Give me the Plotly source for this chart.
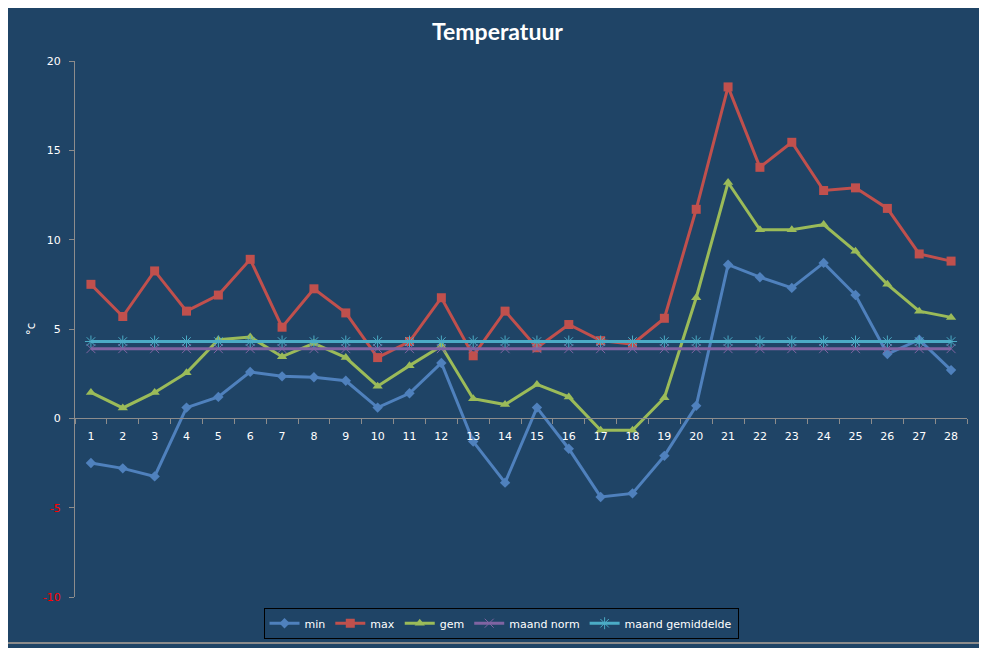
import plotly.graph_objs as go

# dagen van de maand
dagen = [str(d) for d in range(1, 29)]

t_min = [-2.5, -2.8, -3.25, 0.6, 1.2, 2.6, 2.35, 2.3, 2.1, 0.6, 1.4, 3.1, -1.3, -3.6,
         0.6, -1.7, -4.4, -4.2, -2.1, 0.7, 8.6, 7.9, 7.3, 8.7, 6.9, 3.6, 4.4, 2.7]
t_max = [7.5, 5.7, 8.25, 6.0, 6.9, 8.9, 5.1, 7.25, 5.9, 3.4, 4.3, 6.75, 3.5, 6.0,
         3.95, 5.25, 4.35, 4.15, 5.6, 11.7, 18.55, 14.05, 15.45, 12.75, 12.9, 11.75, 9.2, 8.8]
t_gem = [1.45, 0.58, 1.45, 2.55, 4.4, 4.55, 3.45, 4.2, 3.4, 1.8, 2.95, 4.05, 1.1, 0.77,
         1.9, 1.2, -0.67, -0.67, 1.15, 6.75, 13.2, 10.55, 10.55, 10.85, 9.35, 7.5, 6.0, 5.65]
maand_norm = [3.9] * 28
maand_gemiddelde = [4.3] * 28

# y-as labels
y_ticks = [-10, -5, 0, 5, 10, 15, 20]
y_labels = ['<span style="color:#FF0000">-10</span>', '<span style="color:#FF0000">-5</span>',
            '0', '5', '10', '15', '20']

bg = '#1F4466'
fnt = 'DejaVu Sans'

fig = go.Figure()

fig.add_trace(go.Scatter(x=dagen, y=t_min, name='min', mode='lines+markers',
                         line=dict(color='#4F81BD', width=3),
                         marker=dict(symbol='diamond', size=8, color='#4F81BD')))
fig.add_trace(go.Scatter(x=dagen, y=t_max, name='max', mode='lines+markers',
                         line=dict(color='#C0504D', width=3),
                         marker=dict(symbol='square', size=9, color='#C0504D')))
fig.add_trace(go.Scatter(x=dagen, y=t_gem, name='gem', mode='lines+markers',
                         line=dict(color='#9BBB59', width=3),
                         marker=dict(symbol='triangle-up', size=9, color='#9BBB59')))
fig.add_trace(go.Scatter(x=dagen, y=maand_norm, name='maand norm', mode='lines+markers',
                         line=dict(color='#8064A2', width=3),
                         marker=dict(symbol='x-thin-open', size=9,
                                     line=dict(color='#8064A2', width=1))))
fig.add_trace(go.Scatter(x=dagen, y=maand_gemiddelde, name='maand gemiddelde', mode='lines+markers',
                         line=dict(color='#4BACC6', width=3),
                         marker=dict(symbol='asterisk-open', size=10,
                                     line=dict(color='#4BACC6', width=1))))

fig.update_layout(
    width=979, height=640,
    paper_bgcolor=bg, plot_bgcolor=bg,
    margin=dict(l=67, r=20, t=53, b=51, autoexpand=False),
    title=dict(text='<b>Temperatuur</b>', x=0.5, xanchor='center', y=0.9625, yanchor='middle',
               font=dict(family='Lato', size=23, color='white')),
    font=dict(family=fnt, size=11, color='white'),
    showlegend=True,
    legend=dict(orientation='h', x=0.4776, xanchor='center', y=-0.02, yanchor='top',
                bgcolor=bg, bordercolor='black', borderwidth=1,
                font=dict(family=fnt, size=11, color='white')),
    xaxis=dict(type='category', range=[-0.5, 27.5], anchor='free', position=1/3,
               showline=True, linecolor='#8C8C8C', linewidth=1,
               ticks='outside', tickson='boundaries', ticklen=5, tickcolor='#8C8C8C',
               ticklabelstandoff=7,
               showgrid=False, zeroline=False, tickfont=dict(color='white', size=11)),
    yaxis=dict(range=[-10, 20], tickvals=y_ticks, ticktext=y_labels,
               showline=True, linecolor='#8C8C8C', linewidth=1,
               ticks='outside', ticklen=5, tickcolor='#8C8C8C', ticklabelstandoff=6,
               showgrid=False, zeroline=False,
               title=dict(text='°c', standoff=4, font=dict(size=12, color='white'))),
)

# kader rond de grafiek
fig.add_shape(type='line', xref='paper', yref='paper', x0=1.0157, x1=1.0157, y0=-0.0858, y1=1.12,
              line=dict(color='#8C8C8C', width=2))
fig.add_shape(type='line', xref='paper', yref='paper', x0=-0.1, x1=1.0157, y0=-0.0858, y1=-0.0858,
              line=dict(color='#8C8C8C', width=2))

fig.write_html("out.html")
